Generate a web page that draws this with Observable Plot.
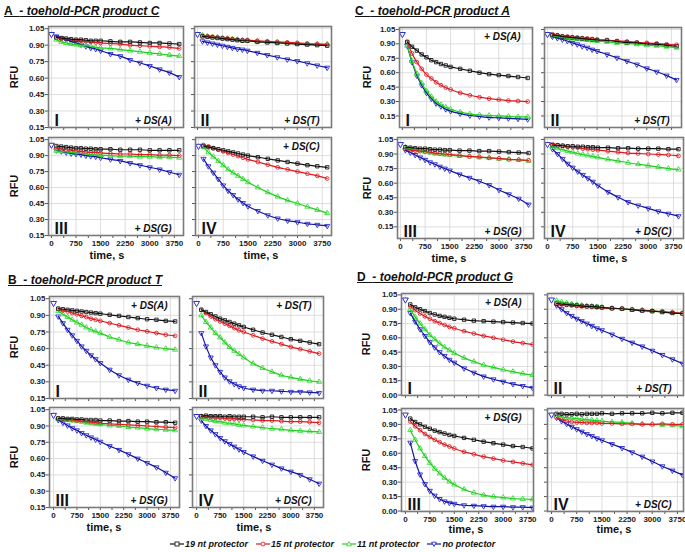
<!DOCTYPE html>
<html><head><meta charset="utf-8">
<script src="https://cdn.jsdelivr.net/npm/d3@7"></script>
<script src="https://cdn.jsdelivr.net/npm/@observablehq/plot@0.6"></script>
<style>
body{margin:0;background:#fff;}
#fig{position:relative;width:685px;height:552px;overflow:hidden;font-family:"Liberation Sans",Arial,sans-serif;color:#111;}
.abs{position:absolute;white-space:nowrap;}
.title{font-size:12px;font-weight:bold;text-decoration:underline;line-height:14px;}
.title i{font-style:italic;}
.rfu{font-size:11px;font-weight:bold;transform:translate(-50%,-50%) rotate(-90deg);}
.xl{font-size:11px;font-weight:bold;transform:translate(-50%,-50%);}
.leg{font-size:9px;font-weight:bold;font-style:italic;display:flex;align-items:center;gap:0;}
.leg span{display:inline-flex;align-items:center;margin-right:8px;}
#fig svg.panel{position:absolute;overflow:visible;}
</style></head>
<body><div id="fig"></div>
<script>
// ---------------- data ----------------
const times = [150, 300, 450, 600, 750, 900, 1050, 1200, 1350, 1500, 1800, 2100, 2400, 2700, 3000, 3300, 3600, 3900];
const seriesNames = ["19 nt protector", "15 nt protector", "11 nt protector", "no protector"];
const panelNumerals = ["I", "II", "III", "IV"];
const dsLabels = ["+ DS(A)", "+ DS(T)", "+ DS(G)", "+ DS(C)"];
const xTickValues = [0, 750, 1500, 2250, 3000, 3750];
const xMinorTicks = [375, 1125, 1875, 2625, 3375];
const yTicks015 = [0.15, 0.30, 0.45, 0.60, 0.75, 0.90, 1.05];
const yTicks000 = [0.00, 0.15, 0.30, 0.45, 0.60, 0.75, 0.90, 1.05];
const groupLetters = ["A", "B", "C", "D"];
const groupProducts = ["toehold-PCR product C", "toehold-PCR product T", "toehold-PCR product A", "toehold-PCR product G"];

// first reading (t = 0) of each panel, I..IV
const startA = [1.00, 1.00, 1.00, 0.99];
const startB = [1.01, 1.01, 1.00, 0.99];
const startC = [1.00, 1.00, 1.00, 1.00];
const startD = [1.00, 1.00, 1.00, 1.00];

// rows: 19 nt, 15 nt, 11 nt, no protector
// A - toehold-PCR product C
const A_I = [
  [0.97,0.965,0.96,0.955,0.95,0.95,0.945,0.94,0.94,0.94,0.935,0.93,0.93,0.925,0.92,0.92,0.915,0.91],
  [0.97,0.96,0.955,0.95,0.945,0.94,0.935,0.93,0.925,0.92,0.915,0.91,0.90,0.895,0.89,0.885,0.88,0.87],
  [0.95,0.93,0.92,0.91,0.905,0.90,0.895,0.89,0.88,0.875,0.87,0.86,0.85,0.84,0.83,0.82,0.81,0.80],
  [0.98,0.965,0.95,0.935,0.92,0.905,0.89,0.875,0.865,0.85,0.82,0.80,0.765,0.74,0.71,0.68,0.65,0.61]];
const A_II = [
  [0.98,0.975,0.97,0.965,0.96,0.955,0.95,0.945,0.94,0.94,0.93,0.925,0.92,0.915,0.91,0.905,0.90,0.895],
  [0.985,0.98,0.975,0.97,0.965,0.96,0.955,0.95,0.945,0.945,0.94,0.935,0.93,0.925,0.92,0.915,0.91,0.905],
  [0.99,0.98,0.975,0.97,0.965,0.96,0.955,0.95,0.945,0.94,0.935,0.93,0.925,0.92,0.915,0.91,0.91,0.91],
  [0.935,0.925,0.915,0.905,0.895,0.885,0.875,0.865,0.86,0.85,0.83,0.81,0.79,0.77,0.755,0.735,0.715,0.695]];
const A_III = [
  [0.99,0.985,0.98,0.975,0.97,0.97,0.965,0.965,0.96,0.96,0.96,0.955,0.955,0.955,0.95,0.95,0.95,0.95],
  [0.97,0.96,0.955,0.95,0.945,0.94,0.935,0.93,0.93,0.925,0.92,0.915,0.915,0.91,0.91,0.905,0.905,0.90],
  [0.945,0.94,0.935,0.93,0.925,0.92,0.915,0.91,0.905,0.905,0.90,0.895,0.895,0.89,0.89,0.885,0.885,0.88],
  [0.95,0.94,0.93,0.92,0.915,0.91,0.90,0.895,0.89,0.88,0.865,0.85,0.83,0.81,0.79,0.77,0.745,0.72]];
const A_IV = [
  [0.99,0.98,0.97,0.96,0.95,0.94,0.93,0.92,0.91,0.90,0.885,0.87,0.855,0.84,0.825,0.81,0.80,0.79],
  [1.00,0.985,0.97,0.955,0.94,0.925,0.91,0.895,0.88,0.865,0.84,0.815,0.79,0.77,0.75,0.73,0.71,0.685],
  [0.98,0.93,0.89,0.85,0.81,0.77,0.74,0.71,0.68,0.65,0.60,0.555,0.515,0.48,0.45,0.42,0.39,0.36],
  [0.87,0.80,0.74,0.68,0.62,0.57,0.53,0.49,0.455,0.425,0.38,0.34,0.31,0.29,0.275,0.26,0.25,0.24]];
// B - toehold-PCR product T
const B_I = [
  [0.96,0.955,0.95,0.945,0.94,0.935,0.93,0.925,0.92,0.915,0.905,0.895,0.885,0.875,0.865,0.86,0.85,0.845],
  [0.96,0.945,0.935,0.92,0.91,0.895,0.885,0.87,0.86,0.85,0.83,0.81,0.79,0.77,0.755,0.74,0.725,0.715],
  [0.94,0.91,0.885,0.86,0.835,0.815,0.79,0.77,0.755,0.74,0.705,0.68,0.655,0.64,0.625,0.61,0.60,0.59],
  [0.89,0.83,0.77,0.72,0.67,0.62,0.58,0.54,0.505,0.47,0.41,0.36,0.32,0.29,0.265,0.245,0.23,0.22]];
const B_II = [
  [0.95,0.93,0.91,0.89,0.87,0.855,0.84,0.825,0.81,0.795,0.77,0.745,0.725,0.705,0.685,0.67,0.655,0.64],
  [0.95,0.92,0.89,0.865,0.845,0.825,0.805,0.785,0.765,0.75,0.72,0.69,0.665,0.64,0.615,0.595,0.575,0.555],
  [0.90,0.84,0.79,0.74,0.70,0.655,0.615,0.58,0.55,0.52,0.465,0.425,0.39,0.36,0.34,0.325,0.31,0.30],
  [0.74,0.62,0.52,0.45,0.39,0.34,0.305,0.28,0.26,0.245,0.23,0.22,0.22,0.215,0.21,0.21,0.205,0.20]];
const B_III = [
  [0.97,0.97,0.965,0.965,0.96,0.96,0.955,0.955,0.955,0.95,0.95,0.945,0.945,0.94,0.94,0.935,0.935,0.93],
  [0.97,0.965,0.96,0.955,0.95,0.945,0.94,0.935,0.93,0.925,0.92,0.915,0.91,0.905,0.90,0.895,0.89,0.885],
  [0.965,0.96,0.955,0.95,0.945,0.94,0.93,0.925,0.92,0.915,0.905,0.90,0.89,0.885,0.875,0.87,0.865,0.86],
  [0.955,0.93,0.905,0.88,0.86,0.835,0.815,0.795,0.775,0.755,0.715,0.68,0.64,0.60,0.56,0.52,0.47,0.42]];
const B_IV = [
  [0.99,0.995,0.99,0.99,0.99,0.985,0.99,0.985,0.985,0.985,0.985,0.98,0.985,0.98,0.98,0.98,0.98,0.98],
  [0.99,0.985,0.98,0.975,0.975,0.97,0.965,0.965,0.96,0.96,0.955,0.95,0.95,0.945,0.94,0.94,0.935,0.93],
  [0.975,0.965,0.955,0.945,0.94,0.93,0.925,0.92,0.91,0.905,0.895,0.885,0.875,0.87,0.86,0.855,0.85,0.845],
  [0.95,0.90,0.86,0.825,0.79,0.76,0.735,0.71,0.685,0.66,0.62,0.58,0.545,0.51,0.48,0.45,0.41,0.37]];
// C - toehold-PCR product A
const C_I = [
  [0.92,0.87,0.83,0.79,0.76,0.73,0.71,0.69,0.675,0.66,0.64,0.62,0.60,0.585,0.575,0.565,0.555,0.545],
  [0.92,0.80,0.71,0.64,0.58,0.54,0.50,0.47,0.445,0.425,0.39,0.365,0.345,0.33,0.32,0.31,0.305,0.30],
  [0.88,0.72,0.59,0.49,0.41,0.35,0.30,0.265,0.24,0.22,0.19,0.17,0.16,0.155,0.15,0.145,0.14,0.14],
  [0.88,0.71,0.57,0.47,0.39,0.33,0.28,0.25,0.22,0.20,0.175,0.155,0.145,0.135,0.13,0.125,0.12,0.115]];
const C_II = [
  [0.99,0.985,0.975,0.97,0.965,0.96,0.955,0.95,0.945,0.94,0.935,0.925,0.915,0.91,0.90,0.895,0.885,0.875],
  [1.00,0.99,0.98,0.975,0.97,0.965,0.96,0.955,0.95,0.945,0.94,0.93,0.925,0.915,0.91,0.905,0.895,0.89],
  [0.985,0.975,0.97,0.96,0.955,0.95,0.945,0.94,0.935,0.93,0.92,0.91,0.905,0.895,0.885,0.88,0.87,0.86],
  [0.975,0.96,0.945,0.93,0.91,0.895,0.875,0.86,0.84,0.825,0.79,0.755,0.72,0.685,0.645,0.61,0.57,0.525]];
const C_III = [
  [0.97,0.965,0.96,0.955,0.955,0.95,0.945,0.945,0.94,0.94,0.935,0.935,0.93,0.93,0.925,0.92,0.915,0.91],
  [0.95,0.94,0.935,0.93,0.925,0.92,0.91,0.905,0.90,0.895,0.885,0.875,0.87,0.86,0.855,0.845,0.84,0.835],
  [0.97,0.955,0.945,0.935,0.925,0.915,0.905,0.90,0.895,0.89,0.88,0.875,0.865,0.86,0.85,0.845,0.84,0.83],
  [0.94,0.915,0.89,0.865,0.84,0.815,0.795,0.77,0.75,0.73,0.69,0.655,0.62,0.58,0.53,0.485,0.44,0.38]];
const C_IV = [
  [0.99,0.99,0.985,0.98,0.98,0.975,0.975,0.97,0.97,0.965,0.965,0.96,0.96,0.955,0.955,0.955,0.95,0.95],
  [1.00,0.99,0.985,0.975,0.97,0.965,0.955,0.95,0.945,0.94,0.93,0.92,0.91,0.905,0.90,0.895,0.89,0.88],
  [0.975,0.96,0.945,0.93,0.92,0.905,0.895,0.885,0.875,0.865,0.845,0.83,0.81,0.795,0.78,0.765,0.75,0.74],
  [0.95,0.90,0.85,0.80,0.76,0.72,0.685,0.65,0.615,0.575,0.51,0.455,0.405,0.37,0.34,0.31,0.285,0.26]];
// D - toehold-PCR product G
const D_I = [
  [0.95,0.92,0.90,0.88,0.86,0.845,0.83,0.82,0.81,0.80,0.79,0.78,0.775,0.77,0.765,0.76,0.755,0.75],
  [0.93,0.89,0.855,0.825,0.80,0.775,0.755,0.735,0.715,0.70,0.67,0.645,0.62,0.60,0.58,0.56,0.545,0.53],
  [0.90,0.82,0.75,0.69,0.63,0.585,0.54,0.50,0.47,0.44,0.39,0.35,0.315,0.29,0.265,0.245,0.225,0.21],
  [0.86,0.77,0.69,0.62,0.555,0.50,0.45,0.41,0.37,0.34,0.28,0.235,0.195,0.165,0.14,0.115,0.095,0.075]];
const D_II = [
  [0.96,0.955,0.95,0.945,0.94,0.935,0.93,0.93,0.925,0.92,0.91,0.905,0.895,0.885,0.88,0.87,0.86,0.855],
  [0.955,0.95,0.945,0.94,0.935,0.93,0.93,0.925,0.92,0.915,0.91,0.905,0.895,0.89,0.88,0.875,0.865,0.86],
  [0.99,0.975,0.965,0.955,0.945,0.94,0.935,0.93,0.925,0.92,0.91,0.905,0.895,0.89,0.88,0.875,0.865,0.855],
  [0.94,0.90,0.86,0.83,0.80,0.775,0.75,0.725,0.70,0.68,0.635,0.59,0.55,0.51,0.465,0.42,0.375,0.33]];
const D_III = [
  [0.96,0.925,0.90,0.875,0.855,0.835,0.82,0.805,0.79,0.78,0.76,0.74,0.72,0.705,0.69,0.675,0.665,0.65],
  [0.93,0.88,0.84,0.80,0.77,0.74,0.715,0.69,0.67,0.65,0.615,0.59,0.565,0.545,0.525,0.51,0.495,0.48],
  [0.84,0.74,0.65,0.57,0.50,0.44,0.39,0.345,0.305,0.275,0.225,0.19,0.165,0.15,0.14,0.13,0.125,0.12],
  [0.71,0.52,0.38,0.28,0.21,0.16,0.125,0.10,0.085,0.075,0.06,0.055,0.05,0.045,0.045,0.04,0.04,0.035]];
const D_IV = [
  [1.01,1.01,1.005,1.005,1.01,1.005,1.01,1.01,1.01,1.015,1.01,1.015,1.015,1.015,1.02,1.015,1.02,1.02],
  [0.97,0.95,0.935,0.925,0.92,0.92,0.915,0.915,0.915,0.91,0.91,0.905,0.905,0.90,0.90,0.905,0.90,0.90],
  [0.99,0.98,0.97,0.965,0.96,0.955,0.95,0.945,0.94,0.935,0.925,0.92,0.91,0.905,0.90,0.895,0.89,0.88],
  [0.97,0.935,0.905,0.875,0.85,0.825,0.80,0.78,0.755,0.735,0.695,0.655,0.61,0.565,0.515,0.465,0.42,0.375]];

// ---------------- styling / layout ----------------
const markColors = ["#1b1b1b", "#e3262b", "#35e035", "#2b2bd8"];
const lineColors = ["#111111", "#d81c22", "#22cc22", "#14149e"];
const symbols = ["square", "circle", "triangle", "triangle"];
const rotations = [0, 0, 0, 180];
const FONT = "'Liberation Sans', Arial, sans-serif";

const groups = [
  {g: 0, panels: [A_I, A_II, A_III, A_IV], start: startA, yTicks: yTicks015, yDom: [0.15, 1.07], xDom: [-90, 4030],
   frames: [[48,26,183,127],[194,26,331,127],[48,137,183,235],[195,137,331,235]],
   ds: ["bottom","bottom","bottom","top"], title: [4, 4], rfuX: 14, xl: [[107,255],[261,255]]},
  {g: 1, panels: [B_I, B_II, B_III, B_IV], start: startB, yTicks: yTicks015, yDom: [0.15, 1.07], xDom: [-130, 4040],
   frames: [[49,296,179,398],[192,296,323,398],[49,407,179,507],[192,407,323,507]],
   ds: ["top","top","bottom","bottom"], title: [8, 273], rfuX: 14, xl: [[104,527],[254,527]]},
  {g: 2, panels: [C_I, C_II, C_III, C_IV], start: startC, yTicks: yTicks015, yDom: [0.03, 1.07], xDom: [-90, 4050],
   frames: [[399,27,532,127],[544,27,681,127],[397,137,533,238],[544,137,683,238]],
   ds: ["top","bottom","bottom","bottom"], title: [355, 4], rfuX: 367, xl: [[449,258],[610,258]]},
  {g: 3, panels: [D_I, D_II, D_III, D_IV], start: startD, yTicks: yTicks000, yDom: [-0.005, 1.065], xDom: [-120, 3930],
   frames: [[401,293,533,395],[547,293,683,395],[401,408,533,511],[547,408,683,511]],
   ds: ["top","bottom","top","bottom"], title: [357, 270], rfuX: 366, xl: [[466,529],[614,529]]}
];

const fig = document.getElementById("fig");
const ML = 36, MR = 4, MT = 4, MB = 16;

function addDiv(cls, html, x, y) {
  const d = document.createElement("div");
  d.className = "abs " + cls;
  d.innerHTML = html;
  d.style.left = x + "px";
  d.style.top = y + "px";
  fig.appendChild(d);
  return d;
}

for (const G of groups) {
  addDiv("title", `${groupLetters[G.g]}&nbsp; <i>- ${groupProducts[G.g]}</i>`, G.title[0], G.title[1]);
  G.panels.forEach((P, p) => {
    const [L, T, R, B] = G.frames[p];
    const showY = p % 2 === 0;
    const showX = p >= 2;
    const marks = [
      Plot.gridX(xTickValues, {stroke: "#d6d6d6", strokeOpacity: 1, strokeWidth: 0.8}),
      Plot.gridY(G.yTicks, {stroke: "#d6d6d6", strokeOpacity: 1, strokeWidth: 0.8}),
      Plot.axisX(xMinorTicks, {tickSize: 3, tickFormat: () => "", label: null, stroke: "#555"}),
      Plot.axisX(xTickValues, {tickSize: 3, tickPadding: 1.5, tickFormat: showX ? (d) => String(d) : () => "", label: null, stroke: "#555"}),
      Plot.axisY(G.yTicks, {tickSize: 3, tickPadding: 1, tickFormat: showY ? (d) => d.toFixed(2) : () => "", label: null, stroke: "#555"})
    ];
    for (let s = 3; s >= 0; s--) {
      const rows = times.map((t, i) => ({t, v: P[s][i]}));
      marks.push(Plot.dot(rows, {x: "t", y: "v", symbol: symbols[s], rotate: rotations[s], r: 1.9,
        stroke: markColors[s], fill: "white", fillOpacity: 0.6, strokeWidth: 0.9, clip: true}));
    }
    for (let s = 3; s >= 0; s--) {
      const rows = times.map((t, i) => ({t, v: P[s][i]}));
      marks.push(Plot.line(rows, {x: "t", y: "v", stroke: lineColors[s], strokeWidth: 1.2, curve: "monotone-x", clip: true}));
    }
    marks.push(Plot.dot([{t: 0, v: G.start[p]}], {x: "t", y: "v", symbol: "triangle", rotate: 180, r: 2.2,
      stroke: markColors[3], fill: "white", strokeWidth: 1}));
    marks.push(Plot.frame({stroke: "#7a7a7a", strokeWidth: 1.6}));
    marks.push(Plot.text([panelNumerals[p]], {text: (d) => d, frameAnchor: "bottom-left", dx: 6, dy: -2,
      fontSize: 16, fontWeight: 900, fill: "#111", fontFamily: "'Liberation Sans Narrow', 'Liberation Sans', Arial"}));
    const top = G.ds[p] === "top";
    marks.push(Plot.text([dsLabels[p]], {text: (d) => d, frameAnchor: top ? "top-right" : "bottom-right",
      dx: -12, dy: top ? 5 : -4, fontSize: 10, fontWeight: "bold", fontStyle: "italic", fill: "#111"}));

    const svg = Plot.plot({
      width: (R - L) + ML + MR, height: (B - T) + MT + MB,
      marginLeft: ML, marginRight: MR, marginTop: MT, marginBottom: MB,
      x: {domain: G.xDom},
      y: {domain: G.yDom},
      style: {fontFamily: FONT, fontSize: "8px", fontWeight: "bold", background: "transparent", color: "#222"},
      marks
    });
    svg.classList.add("panel");
    svg.style.left = (L - ML) + "px";
    svg.style.top = (T - MT) + "px";
    fig.appendChild(svg);
    if (showY) addDiv("rfu", "RFU", G.rfuX, (T + B) / 2);
  });
  addDiv("xl", "time, s", G.xl[0][0], G.xl[0][1]);
  addDiv("xl", "time, s", G.xl[1][0], G.xl[1][1]);
}

// legend
const leg = addDiv("leg", "", 170, 539);
seriesNames.forEach((name, s) => {
  const span = document.createElement("span");
  const shape = s === 0 ? `<rect x="5" y="2" width="4" height="4" fill="white" stroke="${markColors[s]}" stroke-width="0.9"/>`
    : s === 1 ? `<circle cx="7" cy="4" r="2" fill="white" stroke="${markColors[s]}" stroke-width="0.9"/>`
    : s === 2 ? `<path d="M7,1.6L9.4,5.8L4.6,5.8Z" fill="white" stroke="${markColors[s]}" stroke-width="0.9"/>`
    : `<path d="M7,6.4L9.4,2.2L4.6,2.2Z" fill="white" stroke="${markColors[s]}" stroke-width="0.9"/>`;
  span.innerHTML = `<svg width="14" height="8" style="margin-right:1px"><line x1="0" y1="4" x2="14" y2="4" stroke="${lineColors[s]}" stroke-width="1.2"/>${shape}</svg>${name}`;
  leg.appendChild(span);
});
</script>
</body></html>
